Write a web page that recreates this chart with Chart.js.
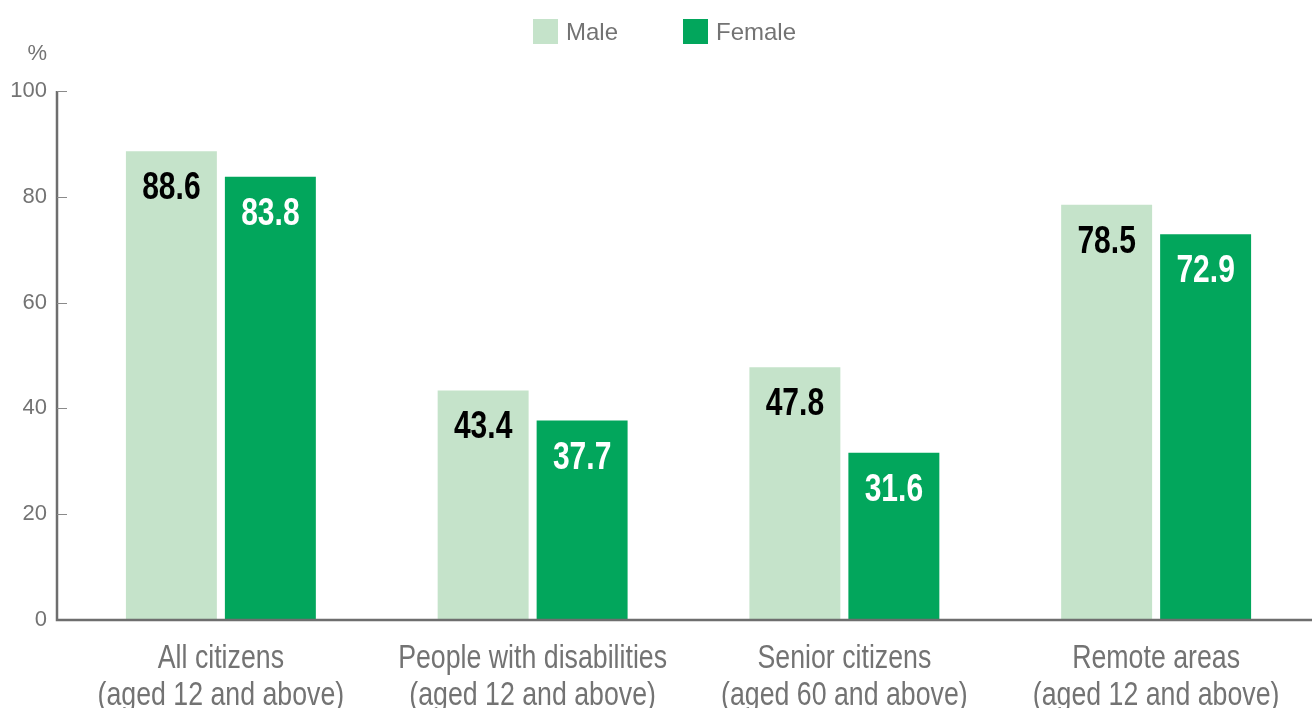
<!DOCTYPE html>
<html>
<head>
<meta charset="utf-8">
<title>Internet use by group and sex</title>
<script src="https://cdn.jsdelivr.net/npm/chart.js@4"></script>
<style>
  html, body { margin: 0; padding: 0; background: #fff; }
  #wrap { width: 1312px; height: 708px; position: relative; }
</style>
</head>
<body>
<div id="wrap"><canvas id="bar_chart"></canvas></div>
<script>
const categories = [
  ["All citizens", "(aged 12 and above)"],
  ["People with disabilities", "(aged 12 and above)"],
  ["Senior citizens", "(aged 60 and above)"],
  ["Remote areas", "(aged 12 and above)"]
];
const male_values = [88.6, 43.4, 47.8, 78.5];
const female_values = [83.8, 37.7, 31.6, 72.9];
const y_ticks = [0, 20, 40, 60, 80, 100];

const series_names = ["Male", "Female"];
const series_colours = ["#c5e3ca", "#02a65c"];
const label_colours = ["#000000", "#ffffff"];
const axis_grey = "#737373";

// condensed look: squeeze the text horizontally around its anchor point
function narrowText(ctx, text, x, y, squeeze) {
  ctx.save();
  ctx.translate(x, y);
  ctx.scale(squeeze, 1);
  ctx.fillText(text, 0, 0);
  ctx.restore();
}

// axis lines, inner tick marks, category labels, unit, legend and value labels
const decorations = {
  id: "decorations",
  afterDatasetsDraw(chart) {
    const { ctx, chartArea, scales } = chart;
    const axis_x = chartArea.left - 8;
    const y = scales.y;

    ctx.save();

    // value labels inside the bars
    ctx.font = "bold 38px 'Liberation Sans', Arial, sans-serif";
    ctx.textAlign = "center";
    ctx.textBaseline = "alphabetic";
    chart.data.datasets.forEach((ds, i) => {
      ctx.fillStyle = label_colours[i];
      chart.getDatasetMeta(i).data.forEach((bar, j) => {
        narrowText(ctx, ds.data[j].toFixed(1), bar.x, bar.y + 48, 0.79);
      });
    });

    // category labels under the axis
    ctx.fillStyle = axis_grey;
    ctx.font = "33px 'Liberation Sans', Arial, sans-serif";
    chart.data.labels.forEach((lines, j) => {
      const cx = scales.x.getPixelForValue(j);
      lines.forEach((line, k) => {
        narrowText(ctx, line, cx, chartArea.bottom + 48 + k * 37, 0.81);
      });
    });

    // axes
    ctx.strokeStyle = "#6e6e6e";
    ctx.lineWidth = 2.5;
    ctx.beginPath();
    ctx.moveTo(axis_x, y.getPixelForValue(100));
    ctx.lineTo(axis_x, chartArea.bottom);
    ctx.lineTo(chartArea.right, chartArea.bottom);
    ctx.stroke();

    ctx.lineWidth = 1;
    ctx.strokeStyle = "#8a8a8a";
    y_ticks.forEach(v => {
      if (v === 0) return;
      const py = Math.round(y.getPixelForValue(v)) + 0.5;
      ctx.beginPath();
      ctx.moveTo(axis_x, py);
      ctx.lineTo(axis_x + 10, py);
      ctx.stroke();
    });

    // unit
    ctx.fillStyle = axis_grey;
    ctx.font = "22px 'Liberation Sans', Arial, sans-serif";
    ctx.textAlign = "right";
    ctx.textBaseline = "middle";
    ctx.fillText("%", 47, 54);

    // legend
    ctx.font = "24px 'Liberation Sans', Arial, sans-serif";
    ctx.textAlign = "left";
    ctx.textBaseline = "alphabetic";
    let lx = 533;
    series_names.forEach((name, i) => {
      ctx.fillStyle = series_colours[i];
      ctx.fillRect(lx, 19, 25, 25);
      ctx.fillStyle = axis_grey;
      ctx.fillText(name, lx + 33, 40);
      lx += 150;
    });

    ctx.restore();
  }
};

const bar_canvas = document.getElementById("bar_chart");

const bar_chart = new Chart(bar_canvas.getContext("2d"), {
  type: "bar",
  data: {
    labels: categories,
    datasets: [
      {
        label: series_names[0],
        data: male_values,
        backgroundColor: series_colours[0],
        categoryPercentage: 0.635,
        barPercentage: 0.919
      },
      {
        label: series_names[1],
        data: female_values,
        backgroundColor: series_colours[1],
        categoryPercentage: 0.635,
        barPercentage: 0.919
      }
    ]
  },
  options: {
    responsive: true,
    maintainAspectRatio: false,
    animation: false,
    layout: { padding: { top: 91, right: 0, left: 0, bottom: 0 } },
    plugins: {
      legend: { display: false },
      tooltip: { enabled: false }
    },
    scales: {
      x: {
        grid: { display: false },
        border: { display: false },
        ticks: { display: false },
        afterFit(scale) { scale.height = 88; }
      },
      y: {
        min: 0,
        max: 100,
        grid: { display: false },
        border: { display: false },
        ticks: {
          stepSize: 20,
          color: axis_grey,
          padding: 10,
          font: { family: "'Liberation Sans', Arial, sans-serif", size: 22 }
        },
        afterFit(scale) { scale.width = 65; }
      }
    }
  },
  plugins: [decorations]
});
</script>
</body>
</html>
